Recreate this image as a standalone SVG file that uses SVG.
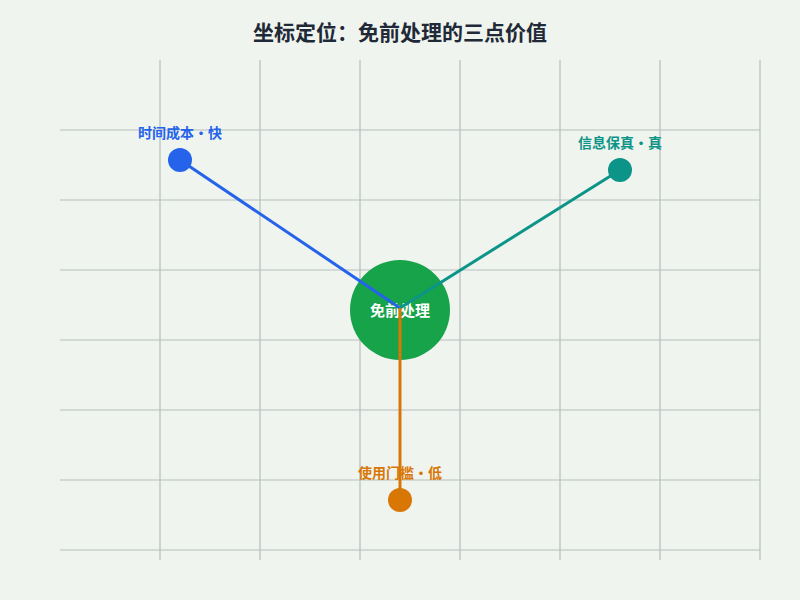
<svg xmlns="http://www.w3.org/2000/svg" width="800" height="600" viewBox="0 0 800 600">
<style>
.g{stroke:#b5bdbd;stroke-width:1.2}
.t{font-family:"Noto Sans CJK SC","Noto Sans",sans-serif;font-weight:bold}
.c{stroke-width:3;fill:none}
</style>
<rect width="800" height="600" fill="#eff5ee"/>
<g id="grid">
<path class="g" d="M160 60V560M260 60V560M360 60V560M460 60V560M560 60V560M660 60V560M760 60V560M60 130H760M60 200H760M60 270H760M60 340H760M60 410H760M60 480H760M60 550H760"/>
</g>
<text class="t" x="400" y="40" text-anchor="middle" font-size="21" fill="#1f2937">坐标定位：免前处理的三点价值</text>
<g id="center"><circle cx="400" cy="310" r="50" fill="#16a34a"/><text class="t" x="400" y="316" text-anchor="middle" font-size="15" fill="#fff">免前处理</text></g>
<g id="connectors">
<line class="c" x1="400" y1="308" x2="180" y2="160" stroke="#2563eb"/>
<line class="c" x1="400" y1="308" x2="620" y2="170" stroke="#0d9488"/>
<line class="c" x1="400" y1="308" x2="400" y2="500" stroke="#d97706"/>
</g>
<g id="speed"><circle cx="180" cy="160" r="12" fill="#2563eb"/><text class="t" x="180" y="138" text-anchor="middle" font-size="14" fill="#2563eb">时间成本・快</text></g>
<g id="fidelity"><circle cx="620" cy="170" r="12" fill="#0d9488"/><text class="t" x="620" y="148" text-anchor="middle" font-size="14" fill="#0d9488">信息保真・真</text></g>
<g id="threshold"><circle cx="400" cy="500" r="12" fill="#d97706"/><text class="t" x="400" y="478" text-anchor="middle" font-size="14" fill="#d97706">使用门槛・低</text></g>
</svg>
